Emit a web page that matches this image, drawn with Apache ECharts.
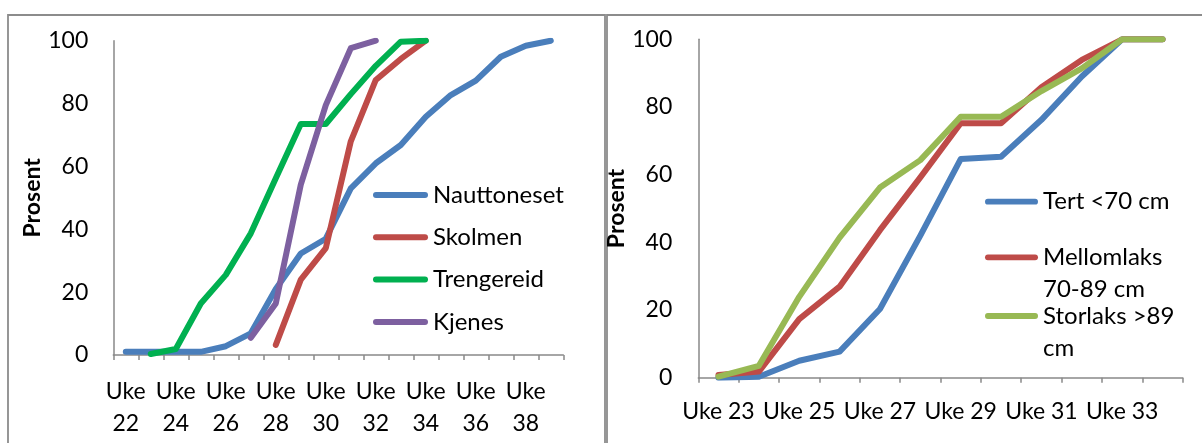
<!DOCTYPE html>
<html><head><meta charset="utf-8">
<script src="https://cdn.jsdelivr.net/npm/echarts@6/dist/echarts.min.js"></script>
<style>html,body{margin:0;padding:0;background:#fff}#c{width:1202px;height:443px}</style>
</head><body><div id="c"></div>
<script>
// ---- Left chart data ----
const leftWeeks = ['Uke 22','Uke 23','Uke 24','Uke 25','Uke 26','Uke 27','Uke 28','Uke 29','Uke 30',
  'Uke 31','Uke 32','Uke 33','Uke 34','Uke 35','Uke 36','Uke 37','Uke 38','Uke 39'];
const nauttoneset = [1, 1, 1, 1, 2.8, 6.9, 21, 32.3, 37, 53, 61, 66.8, 75.8, 82.7, 87.3, 94.9, 98.4, 100];
const skolmen     = [null, null, null, null, null, null, 3.2, 24, 34, 68, 87.5, 94.2, 100, null, null, null, null, null];
const trengereid  = [null, 0.3, 1.9, 16.4, 25.5, 38.7, 56.2, 73.5, 73.5, 83, 92, 99.7, 100, null, null, null, null, null];
const kjenes      = [null, null, null, null, null, 5.5, 16.4, 54.2, 79.5, 97.6, 100, null, null, null, null, null, null, null];

// ---- Right chart data ----
const rightWeeks = ['Uke 23','Uke 24','Uke 25','Uke 26','Uke 27','Uke 28','Uke 29','Uke 30','Uke 31','Uke 32','Uke 33','Uke 34'];
const tert       = [0, 0.3, 5, 7.7, 20.3, 42, 64.6, 65.3, 76.2, 89, 100, 100];
const mellomlaks = [0.8, 1.8, 17.3, 26.9, 43.6, 59.2, 75.2, 75.2, 85.8, 93.9, 100, 100];
const storlaks   = [0.3, 3.5, 23.9, 41.4, 56.2, 64.3, 77.1, 77.1, 84.7, 91.4, 100, 100];

const yTicks = [0, 20, 40, 60, 80, 100];

const FONT = 'Lato';
const AXIS_COLOR = '#898989';
const colors = {
  nauttoneset: '#4A7EBB', skolmen: '#BE4B48', trengereid: '#00B050', kjenes: '#7D60A0',
  tert: '#4A7EBB', mellomlaks: '#BE4B48', storlaks: '#98B954'
};
const iconPath = 'path://M3,0 L52,0 A3,3 0 0 1 52,6 L3,6 A3,3 0 0 1 3,0 Z';

function lineSeries(name, data, color, xi) {
  return {
    name, type: 'line', data, xAxisIndex: xi, yAxisIndex: xi,
    color, symbol: 'none', smooth: false, connectNulls: false,
    lineStyle: { width: 6, color, cap: 'round', join: 'round' },
    itemStyle: { color, borderWidth: 0 },
    emphasis: { disabled: true }, animation: false
  };
}

function xAxis(gi, cats, twoLine, margin, lh) {
  return {
    type: 'category', gridIndex: gi, data: cats, boundaryGap: true,
    axisLine: { show: true, lineStyle: { color: AXIS_COLOR, width: 1.5 } },
    axisTick: { show: true, interval: 0, length: 5, lineStyle: { color: AXIS_COLOR, width: 1.5 } },
    axisLabel: {
      interval: 1, margin, color: '#000', fontFamily: FONT, fontSize: 23, lineHeight: lh,
      formatter: v => twoLine ? v.replace(' ', '\n') : v
    },
    splitLine: { show: false }
  };
}
function yAxis(gi, nameGap, margin) {
  return {
    type: 'value', gridIndex: gi, min: yTicks[0], max: yTicks[yTicks.length - 1], interval: 20,
    name: 'Prosent', nameLocation: 'middle', nameGap, nameRotate: 90,
    nameTextStyle: { fontFamily: FONT, fontSize: 23, fontWeight: 'bold', color: '#000' },
    axisLine: { show: true, lineStyle: { color: AXIS_COLOR, width: 1.5 } },
    axisTick: { show: false },
    axisLabel: { margin, color: '#000', fontFamily: FONT, fontSize: 23 },
    splitLine: { show: false }
  };
}
const legendBase = {
  orient: 'vertical', padding: 0, icon: iconPath, itemWidth: 55, itemHeight: 6,
  selectedMode: false, itemStyle: { borderWidth: 0 },
  textStyle: { fontFamily: FONT, fontSize: 24, color: '#000', lineHeight: 32 }
};

const chart = echarts.init(document.getElementById('c'), null, { renderer: 'canvas' });
chart.setOption({
  animation: false,
  backgroundColor: '#fff',
  graphic: [
    { type: 'rect', shape: { x: 8, y: 15, width: 597, height: 460 }, style: { fill: 'none', stroke: '#8c8c8c', lineWidth: 1.8 }, silent: true, z: -1 },
    { type: 'rect', shape: { x: 607, y: 15, width: 700, height: 460 }, style: { fill: 'none', stroke: '#8c8c8c', lineWidth: 1.8 }, silent: true, z: -1 }
  ],
  grid: [
    { left: 113.3, top: 40.7, width: 450, height: 314.3 },
    { left: 698.3, top: 39.3, width: 484.4, height: 338.4 }
  ],
  xAxis: [ xAxis(0, leftWeeks, true, 21, 31.5), xAxis(1, rightWeeks, false, 19, 30) ],
  yAxis: [ yAxis(0, 66, 25), yAxis(1, 55, 26) ],
  legend: [
    Object.assign({}, legendBase, { left: 373, top: 179, itemGap: 10.3,
      data: ['Nauttoneset', 'Skolmen', 'Trengereid', 'Kjenes'] }),
    Object.assign({}, legendBase, { left: 985, top: 185.7, itemWidth: 53, data: ['Tert <70 cm'] }),
    Object.assign({}, legendBase, { left: 985, top: 209.3, itemWidth: 53,
      formatter: () => '\nMellomlaks\n70-89 cm',
      data: ['Mellomlaks 70-89 cm'] }),
    Object.assign({}, legendBase, { left: 985, top: 268, itemWidth: 53,
      formatter: () => '\nStorlaks >89\ncm',
      data: ['Storlaks >89 cm'] })
  ],
  series: [
    lineSeries('Nauttoneset', nauttoneset, colors.nauttoneset, 0),
    lineSeries('Skolmen', skolmen, colors.skolmen, 0),
    lineSeries('Trengereid', trengereid, colors.trengereid, 0),
    lineSeries('Kjenes', kjenes, colors.kjenes, 0),
    lineSeries('Tert <70 cm', tert, colors.tert, 1),
    lineSeries('Mellomlaks 70-89 cm', mellomlaks, colors.mellomlaks, 1),
    lineSeries('Storlaks >89 cm', storlaks, colors.storlaks, 1)
  ]
});
</script></body></html>
